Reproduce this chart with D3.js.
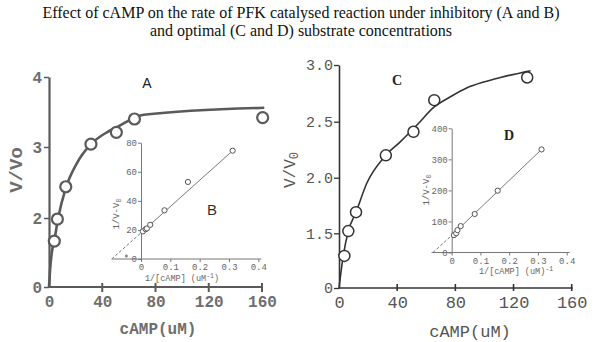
<!DOCTYPE html>
<html><head><meta charset="utf-8">
<script src="https://cdn.jsdelivr.net/npm/d3@7"></script>
<style>body{margin:0;background:#fff}svg{display:block}</style>
</head><body>
<script>
// ---------- DATA ----------
const titleLines = [
  "Effect of cAMP on the rate of PFK catalysed reaction under inhibitory (A and B)",
  "and optimal (C and D) substrate concentrations"
];
const xTicksMain = [0, 40, 80, 120, 160];
// Panel A
const campA = [4.0, 6.3, 12.6, 31.5, 50.6, 64.2, 160.5];
const ratioA = [1.33, 1.97, 2.44, 3.04, 3.21, 3.40, 3.42];
const curveAx = [0, 0.8, 2.0, 4.0, 7.0, 12.6, 20.9, 31.5, 43.5, 50.6, 63.6, 71.2, 161.7];
const curveAy = [0, 0.49, 0.97, 1.35, 2.01, 2.42, 2.77, 3.04, 3.21, 3.28, 3.41, 3.46, 3.56];
const yTicksA = [0, 2, 3, 4];
// Inset B
const invCampB = [0.00625, 0.0156, 0.02, 0.03125, 0.08, 0.16, 0.3125];
const invRateB = [19, 20.5, 21, 23.5, 33.5, 53, 74.5];
const fitBx = [-0.1, 0, 0.3125];
const fitBy = [0, 18, 74.5];
const extraB = [[-0.05, 2]];
const yTicksB = [0, 20, 40, 60, 80];
const xTicksInset = [0, 0.1, 0.2, 0.3, 0.4];
// Panel C
const campC = [3.7, 6.4, 11.7, 32.2, 51.2, 65.5, 129.4];
const ratioC = [0.88, 1.52, 1.69, 2.20, 2.41, 2.69, 2.89];
const curveCx = [0, 3.0, 6.4, 11.7, 19.1, 32.2, 42.1, 53.6, 65.5, 76.6, 88.1, 99.5, 111, 131.7];
const curveCy = [0, 0.9, 1.52, 1.69, 1.95, 2.20, 2.32, 2.47, 2.63, 2.72, 2.80, 2.85, 2.89, 2.95];
const yTicksC = [0, 1.5, 2.0, 2.5, 3.0];
// Inset D
const invCampD = [0.0078, 0.0156, 0.02, 0.03125, 0.08, 0.16, 0.3125];
const invRateD = [56, 62, 72, 85, 124, 199, 332];
const fitDx = [-0.065, 0, 0.3125];
const fitDy = [0, 55, 332];
const yTicksD = [0, 100, 200, 300, 400];

// ---------- CHART ----------
const W = 600, H = 342;
const svg = d3.select("body").append("svg").attr("width", W).attr("height", H);

svg.selectAll("text.title").data(titleLines).join("text")
  .attr("x", 301).attr("y", (d, i) => 18 + i * 18)
  .attr("text-anchor", "middle")
  .style("font-family", "'Liberation Serif', 'Times New Roman', serif")
  .style("font-size", "16px").attr("fill", "#111").text(d => d);

const mono = "'Liberation Mono', 'DejaVu Sans Mono', monospace";

// ===== Panel A =====
const xA = d3.scaleLinear().domain([0, 160]).range([49, 262]);
const yA = d3.scaleLinear().domain([0, 2, 3, 4]).range([287, 218, 147, 77]);
const gA = svg.append("g");
const colA = "#5a5a5a", txtA = "#6e6e6e";

const axAx = gA.append("g").attr("transform", `translate(0,${yA(0)})`)
  .call(d3.axisBottom(xA).tickValues(xTicksMain).tickSize(0).tickPadding(9).tickSizeOuter(0));
axAx.select(".domain").attr("stroke", colA).attr("stroke-width", 2.2).attr("d", `M${xA(0)},0H${xA(160) + 1}`);
axAx.selectAll("text").attr("fill", txtA).style("font-family", mono).style("font-size", "16px").style("font-weight", "bold");
gA.selectAll("line.xtA").data(xTicksMain.filter(d => d > 0)).join("line")
  .attr("x1", d => xA(d)).attr("x2", d => xA(d)).attr("y1", yA(0) - 4).attr("y2", yA(0) + 5)
  .attr("stroke", colA).attr("stroke-width", 2);

const axAy = gA.append("g").attr("transform", `translate(${xA(0)},0)`)
  .call(d3.axisLeft(yA).tickValues(yTicksA).tickFormat(d3.format("d")).tickSize(5).tickPadding(2).tickSizeOuter(0));
axAy.select(".domain").attr("stroke", colA).attr("stroke-width", 2.2);
axAy.selectAll(".tick line").attr("stroke", colA).attr("stroke-width", 1.5);
axAy.selectAll("text").attr("fill", txtA).style("font-family", mono).style("font-size", "16px").style("font-weight", "bold");

gA.append("path").datum(curveAx.map((x, i) => [x, curveAy[i]]))
  .attr("d", d3.line().x(d => xA(d[0])).y(d => yA(d[1])).curve(d3.curveMonotoneX))
  .attr("fill", "none").attr("stroke", colA).attr("stroke-width", 2.6);
gA.selectAll("circle.pA").data(campA.map((x, i) => [x, ratioA[i]])).join("circle")
  .attr("cx", d => xA(d[0])).attr("cy", d => yA(d[1])).attr("r", 5.5)
  .attr("fill", "#fff").attr("stroke", colA).attr("stroke-width", 2.2);

gA.append("text").attr("transform", "translate(22,170) rotate(-90)").attr("text-anchor", "middle")
  .attr("fill", txtA).style("font-family", mono).style("font-size", "19px").style("font-weight", "bold").text("V/Vo");
gA.append("text").attr("x", 158).attr("y", 334).attr("text-anchor", "middle")
  .attr("fill", txtA).style("font-family", mono).style("font-size", "16px").style("font-weight", "bold").text("cAMP(uM)");
gA.append("text").attr("x", 147).attr("y", 88).attr("text-anchor", "middle")
  .attr("fill", "#222").style("font-family", "'Liberation Sans', Arial, sans-serif").style("font-size", "14px").text("A");

// ===== Inset B =====
const xB = d3.scaleLinear().domain([-0.1, 0.4]).range([111.7, 258.3]);
const yB = d3.scaleLinear().domain([0, 80]).range([259, 142.7]);
const gB = svg.append("g");
const colB = "#777", txtB = "#666";
const axBx = gB.append("g").attr("transform", `translate(0,${yB(0)})`)
  .call(d3.axisBottom(xB).tickValues(xTicksInset).tickFormat(d3.format(".1f")).tickSize(3).tickPadding(2).tickSizeOuter(0));
axBx.selectAll("text").text(d => d === 0 ? "0" : d3.format(".1f")(d));
axBx.select(".domain").attr("stroke", colB).attr("d", `M${xB(-0.1)},0H${xB(0.4) + 3}`);
axBx.selectAll("line").attr("stroke", colB);
axBx.selectAll("text").attr("fill", txtB).style("font-family", mono).style("font-size", "9px");
const axBy = gB.append("g").attr("transform", `translate(${xB(0)},0)`)
  .call(d3.axisLeft(yB).tickValues(yTicksB).tickSize(3).tickPadding(1).tickSizeOuter(0));
axBy.select(".domain").attr("stroke", colB);
axBy.selectAll("line").attr("stroke", colB);
axBy.selectAll("text").attr("fill", txtB).style("font-family", mono).style("font-size", "9px");

const fitB = fitBx.map((x, i) => [x, fitBy[i]]);
const lineB = d3.line().x(d => xB(d[0])).y(d => yB(d[1]));
gB.append("path").datum(fitB.slice(0, 2)).attr("d", lineB).attr("fill", "none")
  .attr("stroke", colB).attr("stroke-dasharray", "3,2").attr("stroke-width", 1);
gB.append("path").datum(fitB.slice(1)).attr("d", lineB).attr("fill", "none")
  .attr("stroke", colB).attr("stroke-width", 1);
gB.selectAll("circle.pB").data(invCampB.map((x, i) => [x, invRateB[i]])).join("circle")
  .attr("cx", d => xB(d[0])).attr("cy", d => yB(d[1])).attr("r", 2.6)
  .attr("fill", "#fff").attr("stroke", "#555").attr("stroke-width", 1);
gB.selectAll("circle.eB").data(extraB).join("circle")
  .attr("cx", d => xB(d[0])).attr("cy", d => yB(d[1])).attr("r", 1.5)
  .attr("fill", "#888").attr("stroke", "none");
const yLabB = gB.append("text").attr("transform", "translate(119,214) rotate(-90)").attr("text-anchor", "middle")
  .attr("fill", txtB).style("font-family", mono).style("font-size", "9px");
yLabB.append("tspan").text("1/V-V");
yLabB.append("tspan").attr("dy", 2).style("font-size", "7px").text("0");
const xLabB = gB.append("text").attr("x", 182).attr("y", 281).attr("text-anchor", "middle")
  .attr("fill", txtB).style("font-family", mono).style("font-size", "8.5px");
xLabB.append("tspan").text("1/[cAMP] (uM");
xLabB.append("tspan").attr("dy", -3).style("font-size", "6.5px").text("-1");
xLabB.append("tspan").attr("dy", 3).text(")");
gB.append("text").attr("x", 212).attr("y", 215).attr("text-anchor", "middle")
  .attr("fill", "#333").style("font-family", "'Liberation Sans', Arial, sans-serif").style("font-size", "15px").text("B");

// ===== Panel C =====
const xC = d3.scaleLinear().domain([0, 160]).range([339, 571.7]);
const yC = d3.scaleLinear().domain([0, 1.5, 2.0, 2.5, 3.0]).range([288, 233.3, 177.7, 121.7, 65]);
const gC = svg.append("g");
const colC = "#333", txtC = "#555";
const axCx = gC.append("g").attr("transform", `translate(0,${yC(0)})`)
  .call(d3.axisBottom(xC).tickValues(xTicksMain).tickSize(0).tickPadding(8).tickSizeOuter(0));
axCx.select(".domain").attr("stroke", colC).attr("stroke-width", 1.6).attr("d", `M${xC(0)},0H${xC(160) + 1}`);
axCx.selectAll("text").attr("fill", txtC).style("font-family", mono).style("font-size", "17px");
gC.selectAll("line.xtC").data(xTicksMain.filter(d => d > 0)).join("line")
  .attr("x1", d => xC(d)).attr("x2", d => xC(d)).attr("y1", yC(0) - 4).attr("y2", yC(0) + 3)
  .attr("stroke", colC).attr("stroke-width", 1.6);
const axCy = gC.append("g").attr("transform", `translate(${xC(0)},0)`)
  .call(d3.axisLeft(yC).tickValues(yTicksC).tickFormat(d => d === 0 ? "0" : d3.format(".1f")(d)).tickSize(5).tickPadding(1).tickSizeOuter(0));
axCy.select(".domain").attr("stroke", colC).attr("stroke-width", 1.6);
axCy.selectAll(".tick line").attr("stroke", colC).attr("stroke-width", 1.3);
axCy.selectAll("text").attr("fill", txtC).style("font-family", mono).style("font-size", "15px");

gC.append("path").datum(curveCx.map((x, i) => [x, curveCy[i]]))
  .attr("d", d3.line().x(d => xC(d[0])).y(d => yC(d[1])).curve(d3.curveMonotoneX))
  .attr("fill", "none").attr("stroke", colC).attr("stroke-width", 1.6);
gC.selectAll("circle.pC").data(campC.map((x, i) => [x, ratioC[i]])).join("circle")
  .attr("cx", d => xC(d[0])).attr("cy", d => yC(d[1])).attr("r", 5.5)
  .attr("fill", "#fff").attr("stroke", colC).attr("stroke-width", 1.5);

const yLabC = gC.append("text").attr("transform", "translate(295,170) rotate(-90)").attr("text-anchor", "middle")
  .attr("fill", txtC).style("font-family", mono).style("font-size", "16px");
yLabC.append("tspan").text("V/V");
yLabC.append("tspan").attr("dy", 3).style("font-size", "12px").text("0");
gC.append("text").attr("x", 470).attr("y", 337).attr("text-anchor", "middle")
  .attr("fill", txtC).style("font-family", mono).style("font-size", "17px").text("cAMP(uM)");
gC.append("text").attr("x", 397).attr("y", 85).attr("text-anchor", "middle")
  .attr("fill", "#222").style("font-family", "'Liberation Serif', serif").style("font-size", "14px").style("font-weight", "bold").text("C");

// ===== Inset D =====
const xD = d3.scaleLinear().domain([0, 0.4]).range([451.7, 566.7]);
const yD = d3.scaleLinear().domain([0, 400]).range([252.5, 128.3]);
const gD = svg.append("g");
const colD = "#777", txtD = "#666";
const axDx = gD.append("g").attr("transform", `translate(0,${yD(0)})`)
  .call(d3.axisBottom(xD).tickValues(xTicksInset).tickSize(3).tickPadding(2).tickSizeOuter(0));
axDx.selectAll("text").text(d => d === 0 ? "0" : d3.format(".1f")(d));
axDx.select(".domain").attr("stroke", colD).attr("d", `M${xD(-0.07)},0H${xD(0.4) + 3}`);
axDx.selectAll("line").attr("stroke", colD);
axDx.selectAll("text").attr("fill", txtD).style("font-family", mono).style("font-size", "9px");
const axDy = gD.append("g").attr("transform", `translate(${xD(0)},0)`)
  .call(d3.axisLeft(yD).tickValues(yTicksD).tickSize(3).tickPadding(1).tickSizeOuter(0));
axDy.select(".domain").attr("stroke", colD);
axDy.selectAll("line").attr("stroke", colD);
axDy.selectAll("text").attr("fill", txtD).style("font-family", mono).style("font-size", "9px");

const fitD = fitDx.map((x, i) => [x, fitDy[i]]);
const lineD = d3.line().x(d => xD(d[0])).y(d => yD(d[1]));
gD.append("path").datum(fitD.slice(0, 2)).attr("d", lineD).attr("fill", "none")
  .attr("stroke", colD).attr("stroke-dasharray", "3,2").attr("stroke-width", 1);
gD.append("path").datum(fitD.slice(1)).attr("d", lineD).attr("fill", "none")
  .attr("stroke", colD).attr("stroke-width", 1);
gD.selectAll("circle.pD").data(invCampD.map((x, i) => [x, invRateD[i]])).join("circle")
  .attr("cx", d => xD(d[0])).attr("cy", d => yD(d[1])).attr("r", 2.6)
  .attr("fill", "#fff").attr("stroke", "#555").attr("stroke-width", 1);
const yLabD = gD.append("text").attr("transform", "translate(429,190) rotate(-90)").attr("text-anchor", "middle")
  .attr("fill", txtD).style("font-family", mono).style("font-size", "9px");
yLabD.append("tspan").text("1/V-V");
yLabD.append("tspan").attr("dy", 2).style("font-size", "7px").text("0");
const xLabD = gD.append("text").attr("x", 516).attr("y", 274).attr("text-anchor", "middle")
  .attr("fill", txtD).style("font-family", mono).style("font-size", "8.5px");
xLabD.append("tspan").text("1/[cAMP] (uM)");
xLabD.append("tspan").attr("dy", -3).style("font-size", "6.5px").text("-1");
gD.append("text").attr("x", 509).attr("y", 140).attr("text-anchor", "middle")
  .attr("fill", "#222").style("font-family", "'Liberation Serif', serif").style("font-size", "14px").style("font-weight", "bold").text("D");
</script>
</body></html>
